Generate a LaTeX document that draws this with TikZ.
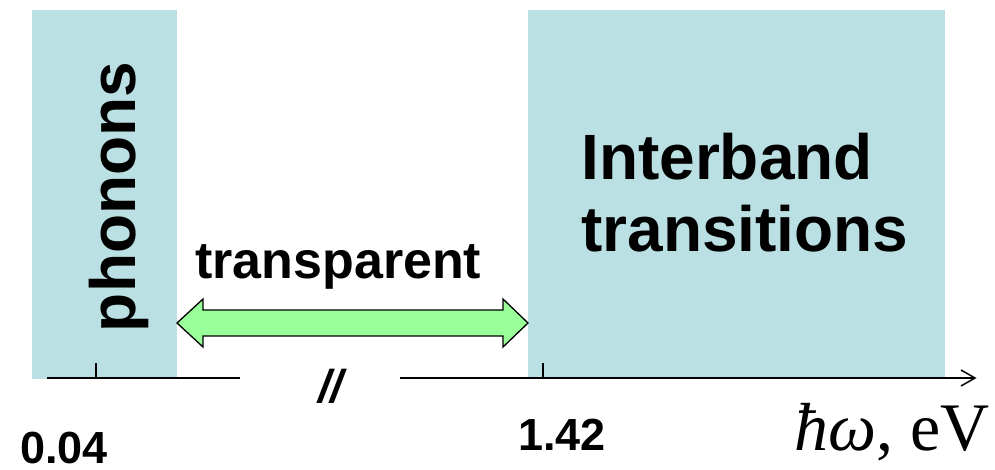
\documentclass[tikz,border=0pt]{standalone}
\usepackage{fontspec}
\setmainfont{Liberation Serif}
\setsansfont{Liberation Sans}
\usetikzlibrary{calc}
\definecolor{bandfill}{RGB}{186,224,227}
\definecolor{arrowfill}{RGB}{153,255,153}
\tikzset{
  band/.style={fill=bandfill, draw=none},
  bigsans/.style={font=\sffamily\bfseries\fontsize{64}{66}\selectfont, inner sep=0pt},
  midsans/.style={font=\sffamily\bfseries\fontsize{45}{47}\selectfont, inner sep=0pt},
  axisline/.style={line width=2pt, black},
  tickline/.style={line width=1.5pt, black},
}
\begin{document}
\begin{tikzpicture}[x=1pt,y=1pt]
\useasboundingbox (0,0) rectangle (995,469);
% absorption bands
\fill[band] (32,90) rectangle (177,459);
\fill[band] (528,90) rectangle (945,459);
\coordinate (phe) at (177,146);
\coordinate (ibw) at (528,146);
% axis with break
\coordinate (a0) at (47,91);
\coordinate (a1) at (240,91);
\coordinate (a2) at (400,91);
\coordinate (a3) at (975,91);
\draw[axisline] (a0) -- (a1);
\draw[axisline] (a2) -- (a3);
\draw[line width=1.5pt] ($(a3)+(-14,-8)$) -- (a3) -- ($(a3)+(-14,8)$);
\draw[tickline] (96,91) -- (96,106);
\draw[tickline] (543,91) -- (543,106);
% transparency window arrow
\filldraw[fill=arrowfill, draw=black, line width=1.3pt]
  (phe) -- ($(phe)+(26,24)$) -- ($(phe)+(26,13)$) -- ($(ibw)+(-25,13)$)
  -- ($(ibw)+(-25,24)$) -- (ibw) -- ($(ibw)+(-25,-24)$) -- ($(ibw)+(-25,-13)$)
  -- ($(phe)+(26,-13)$) -- ($(phe)+(26,-24)$) -- cycle;
% labels
\node[bigsans, rotate=90, anchor=base] (phon) at (135,272) {phonons};
\node[bigsans, anchor=base west] (inter) at (581,289) {Interband};
\node[bigsans, anchor=base west] (trans) at (581,218) {transitions};
\node[font=\sffamily\bfseries\fontsize{52}{54}\selectfont, inner sep=0pt, anchor=base west] (transp) at (195,191) {transparent};
\node[midsans, anchor=base west] (v1) at (20,6) {0.04};
\node[midsans, anchor=base west] (v2) at (518,19) {1.42};
\node[font=\sffamily\bfseries\itshape\fontsize{46}{48}\selectfont, inner sep=0pt, anchor=base west] (brk) at (318,67) {//};
\node[font=\fontsize{68}{70}\selectfont, inner sep=0pt, anchor=base east] (unit) at (990,19) {\textit{ħω}, eV};
\end{tikzpicture}
\end{document}
